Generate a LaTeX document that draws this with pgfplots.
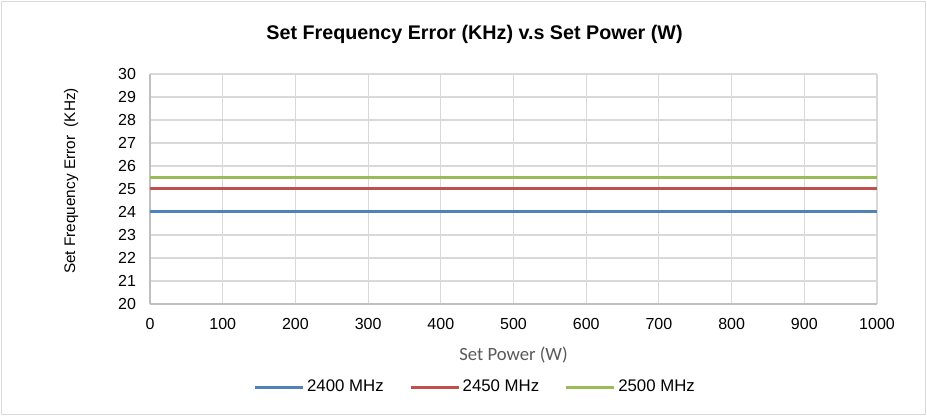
\documentclass[border=0pt]{standalone}
\usepackage{fontspec}
\setmainfont{Liberation Sans}
\newfontfamily\carlito{Carlito}
\usepackage{pgfplots}
\pgfplotsset{compat=1.18}
\definecolor{sblue}{RGB}{79,129,189}
\definecolor{sred}{RGB}{192,80,77}
\definecolor{sgreen}{RGB}{155,187,89}
\definecolor{gridc}{RGB}{217,217,217}
\definecolor{axc}{RGB}{191,191,191}
\definecolor{framec}{RGB}{217,217,217}
\definecolor{xlab}{RGB}{89,89,89}
\begin{document}
\begin{tikzpicture}
\draw[framec,line width=0.9pt] (1.125pt,1.125pt) rectangle (694.125pt,310.875pt);
\path[use as bounding box] (0pt,0pt) rectangle (695.25pt,312pt);
\node[font=\fontsize{14.8}{17}\selectfont\bfseries] at (355.9pt,286.5pt) {Set Frequency Error (KHz) v.s Set Power (W)};
\begin{axis}[
  at={(112.5pt,84pt)}, anchor=origin,
  scale only axis, width=545.25pt, height=172.5pt,
  xmin=0, xmax=1000, ymin=20, ymax=30,
  xtick={0,100,...,1000}, ytick={20,21,...,30},
  major tick length=0pt,
  grid=major, grid style={gridc, line width=0.8pt},
  axis x line*=bottom, axis y line*=left,
  axis line style={axc, line width=1pt, -},
  tick label style={font=\fontsize{12}{14}\selectfont, black},
  /pgf/number format/assume math mode=true,
  /pgf/number format/1000 sep={},
  xticklabel style={yshift=-7.5pt},
  yticklabel style={xshift=-7pt},
  xlabel={\carlito\color{xlab}Set Power (W)},
  xlabel style={font=\fontsize{14}{16}\selectfont, yshift=-6pt},
  ylabel={Set Frequency Error\ \ (KHz)},
  ylabel style={font=\fontsize{11.5}{13}\selectfont, yshift=23pt, xshift=6pt},
  legend columns=3,
  legend style={draw=none, fill=none, at={(0.4477,-0.361)}, anchor=center,
    font=\fontsize{12.6}{14}\selectfont,
    /tikz/every even column/.append style={column sep=17pt},
    inner sep=0pt},
  legend image code/.code={\draw[#1, line width=2.25pt] (0pt,0pt) -- (36pt,0pt);},
]
\addplot[sblue, line width=2.25pt] coordinates {(0,24) (1000,24)};
\addlegendentry{2400 MHz}
\addplot[sred, line width=2.25pt] coordinates {(0,25) (1000,25)};
\addlegendentry{2450 MHz}
\addplot[sgreen, line width=2.25pt] coordinates {(0,25.5) (1000,25.5)};
\addlegendentry{2500 MHz}
\end{axis}
\end{tikzpicture}
\end{document}
